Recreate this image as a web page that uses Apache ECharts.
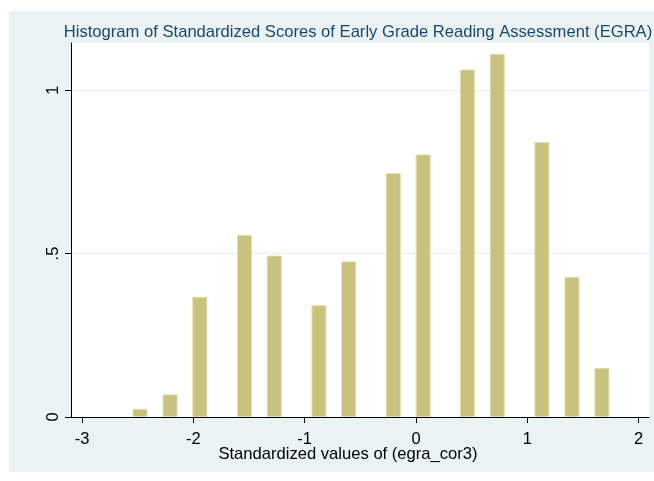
<!DOCTYPE html>
<html>
<head>
<meta charset="utf-8">
<script src="https://cdn.jsdelivr.net/npm/echarts@6/dist/echarts.min.js"></script>
<style>
  html, body { margin: 0; padding: 0; background: #ffffff; }
  #chart { width: 654px; height: 481px; }
</style>
</head>
<body>
<div id="chart"></div>
<script>
// bar centres (standardized score) and densities
const binCenters = [-2.479, -2.209, -1.942, -1.540, -1.273, -0.872, -0.604,
  -0.204, 0.064, 0.462, 0.730, 1.131, 1.401, 1.670];
const densities = [0.025, 0.069, 0.368, 0.557, 0.494, 0.342, 0.476,
  0.746, 0.803, 1.063, 1.111, 0.841, 0.429, 0.150];
const xTicks = [-3, -2, -1, 0, 1, 2];
const yTicks = [0, 0.5, 1];

const chartTitle = 'Histogram of Standardized Scores of Early Grade Reading Assessment (EGRA)';
const xTitle = 'Standardized values of (egra_cor3)';

const font = '"Liberation Sans", Arial, sans-serif';
const chart = echarts.init(document.getElementById('chart'));

chart.setOption({
  animation: false,
  backgroundColor: '#ffffff',
  textStyle: { fontFamily: font },
  graphic: [
    {
      type: 'rect', z: -10, silent: true,
      shape: { x: 9, y: 11, width: 645, height: 461 },
      style: { fill: '#eaf2f3' }
    },
    {
      type: 'text', x: 358, y: 32,
      style: {
        text: chartTitle, fill: '#1a476f', font: '16.6px ' + font,
        textAlign: 'center', textVerticalAlign: 'middle'
      }
    },
    {
      type: 'text', x: 348, y: 454,
      style: {
        text: xTitle, fill: '#000000', font: '16.6px ' + font,
        textAlign: 'center', textVerticalAlign: 'middle'
      }
    }
  ],
  grid: {
    left: 71, right: 5, top: 43, bottom: 64,
    show: true, backgroundColor: '#ffffff', borderWidth: 0
  },
  xAxis: {
    type: 'value',
    min: -3.099,
    max: 2.093,
    axisLine: { onZero: false, lineStyle: { color: '#000000', width: 1 } },
    axisTick: { customValues: xTicks, length: 6, lineStyle: { color: '#000000' } },
    axisLabel: {
      customValues: xTicks, color: '#000000', fontSize: 16.5, margin: 14,
      formatter: v => String(v)
    },
    splitLine: { show: false }
  },
  yAxis: {
    type: 'value',
    min: 0,
    max: 1.144,
    interval: 0.5,
    axisLine: { show: true, onZero: false, lineStyle: { color: '#000000', width: 1 } },
    axisTick: { show: true, customValues: yTicks, length: 6, lineStyle: { color: '#000000' } },
    axisLabel: {
      customValues: yTicks, color: '#000000', fontSize: 16.5, margin: 9, rotate: 90,
      formatter: v => (v === 0 ? '0' : v === 1 ? '1' : '.5')
    },
    splitLine: { show: true, lineStyle: { color: '#e6eef0', width: 1 } }
  },
  series: [{
    type: 'bar',
    data: binCenters.map((x, i) => [x, densities[i]]),
    barWidth: 15,
    itemStyle: { color: '#c9c27f', borderColor: '#e3dea9', borderWidth: 1 }
  }]
});
</script>
</body>
</html>
